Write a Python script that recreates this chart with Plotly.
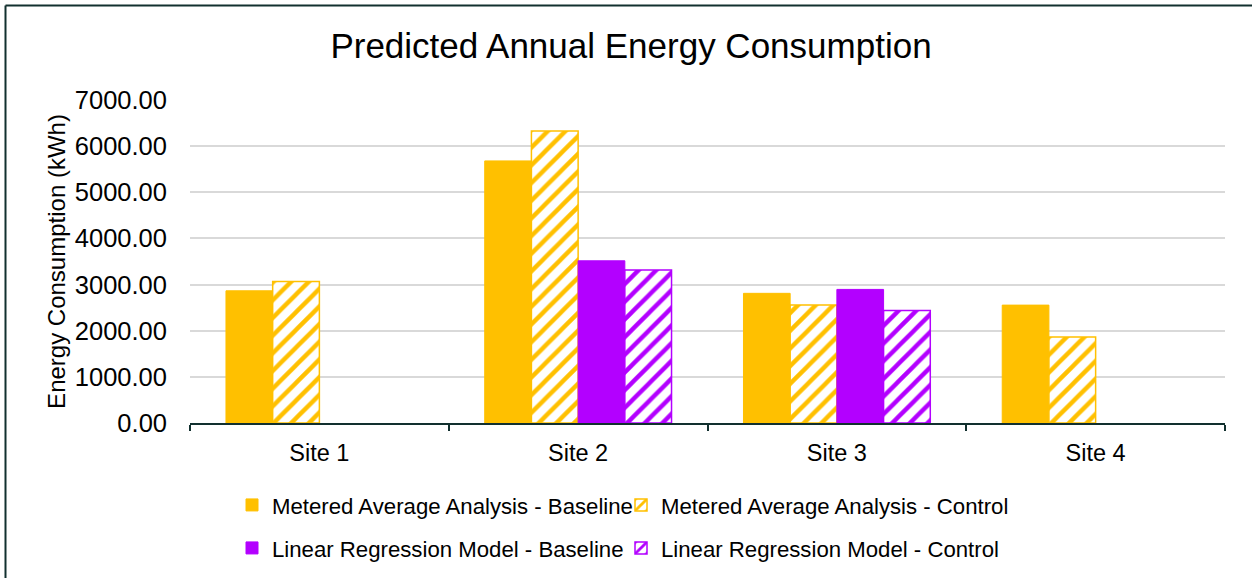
import plotly.graph_objects as go

# Annual consumption per site (kWh)
sites = ["Site 1", "Site 2", "Site 3", "Site 4"]
metered_baseline = [2865, 5680, 2810, 2555]
metered_control = [3065, 6330, 2555, 1865]
regression_baseline = [None, 3515, 2895, None]
regression_control = [None, 3315, 2440, None]
y_ticks = [0, 1000, 2000, 3000, 4000, 5000, 6000, 7000]

GOLD = "#FFC000"
PURPLE = "#B300FF"
FONT = "Liberation Sans, Arial, sans-serif"

W, H = 1253, 578
L, R, T, B = 190, 28, 100, 155
plot_w = W - L - R
plot_h = H - T - B


def px_x(px):
    return (px - L) / plot_w


def px_y(py):
    return (H - B - py) / plot_h


def solid(name, values, color, legend):
    return go.Bar(
        name=name, x=sites, y=values, legend=legend,
        marker=dict(color=color, line=dict(color=color, width=1)),
    )


def hatched(name, values, color, legend):
    return go.Bar(
        name=name, x=sites, y=values, legend=legend,
        marker=dict(
            color=color,
            line=dict(color=color, width=1.5),
            pattern=dict(shape="/", fgcolor=color, bgcolor="white",
                          size=12.5, solidity=0.35, fillmode="replace"),
        ),
    )


fig = go.Figure([
    solid("Metered Average Analysis - Baseline", metered_baseline, GOLD, "legend"),
    hatched("Metered Average Analysis - Control", metered_control, GOLD, "legend2"),
    solid("Linear Regression Model - Baseline", regression_baseline, PURPLE, "legend3"),
    hatched("Linear Regression Model - Control", regression_control, PURPLE, "legend4"),
])

legend_style = dict(font=dict(family=FONT, size=22.2, color="#000"),
                    bgcolor="rgba(0,0,0,0)", xanchor="left", yanchor="middle",
                    orientation="h")
col1, col2 = px_x(232), px_x(621)
row1, row2 = px_y(505), px_y(548)

fig.update_layout(
    width=W, height=H,
    showlegend=True,
    margin=dict(l=L, r=R, t=T, b=B, autoexpand=False),
    paper_bgcolor="white", plot_bgcolor="white",
    font=dict(family=FONT, color="#000"),
    title=dict(text="Predicted Annual Energy Consumption",
               font=dict(family=FONT, size=35, color="#000"),
               x=631 / W, xanchor="center", xref="container",
               y=1 - 46 / H, yanchor="middle", yref="container"),
    barmode="group", bargap=0.278, bargroupgap=0,
    legend=dict(x=col1, y=row1, **legend_style),
    legend2=dict(x=col2, y=row1, **legend_style),
    legend3=dict(x=col1, y=row2, **legend_style),
    legend4=dict(x=col2, y=row2, **legend_style),
    xaxis=dict(
        showline=True, linecolor="#12302F", linewidth=2,
        ticks="outside", tickson="boundaries", ticklen=6, tickwidth=2,
        tickcolor="#12302F", showgrid=False, automargin=False,
        ticklabelstandoff=8,
        tickfont=dict(family=FONT, size=23.5, color="#000"),
    ),
    yaxis=dict(
        range=[0, 7000], tickvals=y_ticks, tickformat=".2f",
        showgrid=True, gridcolor="#D9D9D9", gridwidth=1.5,
        zeroline=False, showline=False, ticks="", automargin=False,
        ticklabelstandoff=22,
        tickfont=dict(family=FONT, size=25.5, color="#000"),
        title=dict(text="Energy Consumption (kWh)", standoff=2,
                   font=dict(family=FONT, size=24, color="#000")),
    ),
    shapes=[
        # outer chart frame: top and left edges
        dict(type="line", xref="paper", yref="paper",
             x0=px_x(5.5), x1=px_x(1252), y0=px_y(5.5), y1=px_y(5.5),
             line=dict(color="#12302F", width=2)),
        dict(type="line", xref="paper", yref="paper",
             x0=px_x(5.5), x1=px_x(5.5), y0=px_y(5.5), y1=px_y(590),
             line=dict(color="#12302F", width=2)),
    ],
)

fig.write_html("out.html")
